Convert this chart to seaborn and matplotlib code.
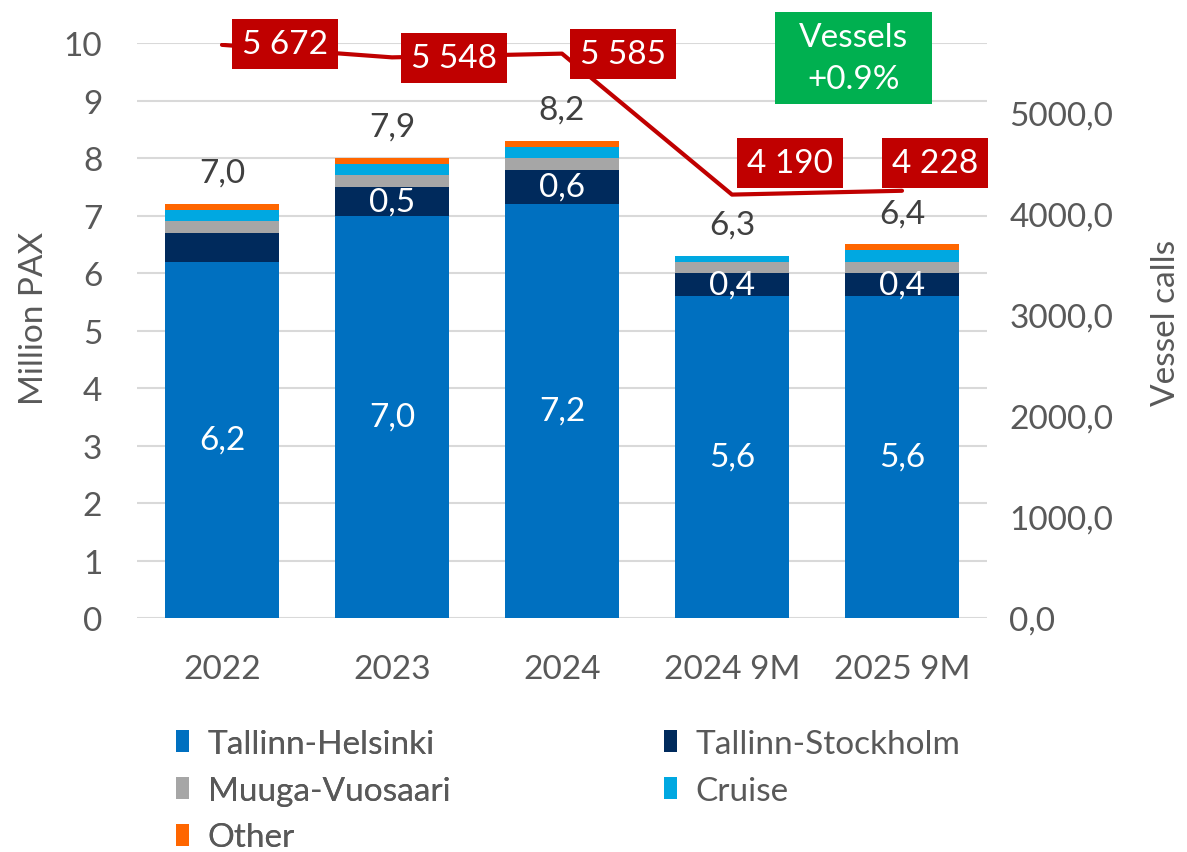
import numpy as np
import pandas as pd
import matplotlib
matplotlib.use("Agg")
import matplotlib.pyplot as plt
from matplotlib.patches import Patch, Rectangle
import seaborn as sns

# data
periods = ["2022", "2023", "2024", "2024 9M", "2025 9M"]
tallinn_helsinki = [6.2, 7.0, 7.2, 5.6, 5.6]
tallinn_stockholm = [0.5, 0.5, 0.6, 0.4, 0.4]
muuga_vuosaari = [0.2, 0.2, 0.2, 0.2, 0.2]
cruise = [0.2, 0.2, 0.2, 0.1, 0.2]
other = [0.1, 0.1, 0.1, 0.0, 0.1]
total_labels = [7.0, 7.9, 8.2, 6.3, 6.4]
stockholm_shown = [False, True, True, True, True]
vessel_calls = [5672, 5548, 5585, 4190, 4228]
vessels_change = "+0.9%"

series_names = ["Tallinn-Helsinki", "Tallinn-Stockholm", "Muuga-Vuosaari", "Cruise", "Other"]
series_colors = ["#0070C0", "#002A5C", "#A6A6A6", "#00A8E1", "#FF6600"]
red = "#C00000"
green = "#00B050"
grey_txt = "#595959"
dark_txt = "#404040"

sns.set_theme(style="white")
plt.rcParams["font.family"] = ["Lato", "DejaVu Sans"]
FS = 24

df = pd.DataFrame({"period": periods, "Tallinn-Helsinki": tallinn_helsinki,
                   "Tallinn-Stockholm": tallinn_stockholm, "Muuga-Vuosaari": muuga_vuosaari,
                   "Cruise": cruise, "Other": other})
cum = df[series_names].cumsum(axis=1)

fig = plt.figure(figsize=(11.87, 8.53), dpi=100)
ax = fig.add_axes([0.1154, 0.2743, 0.7161, 0.6741])

# stacked bars: draw cumulative heights from the top series down
for name, col in reversed(list(zip(series_names, series_colors))):
    sns.barplot(x=df["period"], y=cum[name], color=col, width=0.665,
                saturation=1, edgecolor="none", ax=ax, order=periods)

ax.set_ylim(0, 10)
ax.set_xlim(-0.5, 4.5)
ax.set_yticks(range(0, 11))
ax.set_axisbelow(True)
ax.yaxis.grid(True, color="#D9D9D9", linewidth=1.5)
ax.xaxis.grid(False)
for s in ax.spines.values():
    s.set_visible(False)
ax.tick_params(axis="y", length=0, pad=25, labelsize=FS, labelcolor=grey_txt)
ax.tick_params(axis="x", length=0, pad=26, labelsize=FS, labelcolor=grey_txt)
ax.set_xlabel("")
ax.set_ylabel("Million PAX", fontsize=FS, color=grey_txt)
ax.yaxis.set_label_coords(-0.103, 0.523)

# labels inside and on top of bars
for i in range(len(periods)):
    ax.text(i, tallinn_helsinki[i] / 2, f"{tallinn_helsinki[i]:.1f}".replace(".", ","),
            ha="center", va="center", color="white", fontsize=FS)
    if stockholm_shown[i]:
        ax.text(i, tallinn_helsinki[i] + tallinn_stockholm[i] / 2,
                f"{tallinn_stockholm[i]:.1f}".replace(".", ","),
                ha="center", va="center", color="white", fontsize=FS)
    ax.annotate(f"{total_labels[i]:.1f}".replace(".", ","), (i, cum["Other"][i]),
                xytext=(0, 22), textcoords="offset pixels",
                ha="center", va="baseline", color=dark_txt, fontsize=FS)

# vessel calls line on secondary axis
ax2 = ax.twinx()
sns.lineplot(x=np.arange(len(periods)), y=vessel_calls, color=red, linewidth=3, ax=ax2)
ax2.set_xlim(-0.5, 4.5)
ax2.set_ylim(0, 5690)
ax2.set_yticks(range(0, 6000, 1000))
ax2.set_yticklabels([f"{t:.1f}".replace(".", ",") for t in range(0, 6000, 1000)])
ax2.tick_params(axis="y", length=0, pad=16, labelsize=FS, labelcolor=grey_txt)
ax2.grid(False)
for s in ax2.spines.values():
    s.set_visible(False)
ax2.set_ylabel("Vessel calls", fontsize=FS, color=grey_txt)
ax2.yaxis.set_label_coords(1.193, 0.515)

offsets = [(63, 1), (62, -1), (61, 0), (58, 32), (33, 28)]
for i, v in enumerate(vessel_calls):
    txt = f"{v:,}".replace(",", " ")
    ax2.annotate(txt, (i, v), xytext=offsets[i], textcoords="offset pixels",
                 ha="center", va="center", color="white", fontsize=FS,
                 bbox=dict(boxstyle="square,pad=0.3", fc=red, ec="none"))

ax2.add_patch(Rectangle((0.7506, 0.8939), 0.1847, 0.16, transform=ax2.transAxes,
                        facecolor=green, edgecolor="none", clip_on=False, zorder=5))
ax2.text(0.8427, 0.974, "Vessels\n" + vessels_change, transform=ax2.transAxes,
         ha="center", va="center", color="white", fontsize=FS, linespacing=1.5, zorder=6)

# legend, two columns filled row by row
handles = [Patch(facecolor=c, edgecolor="none") for c in series_colors]
leg_kw = dict(frameon=False, fontsize=FS, handlelength=0.4, handleheight=0.65,
              handletextpad=0.55, labelspacing=0.5, labelcolor=grey_txt,
              loc="upper left", borderaxespad=0, borderpad=0)
leg1 = fig.legend([handles[0], handles[2], handles[4]],
                  [series_names[0], series_names[2], series_names[4]],
                  bbox_to_anchor=(176 / 1187, 1 - 730 / 853), **leg_kw)
fig.add_artist(leg1)
fig.legend([handles[1], handles[3]], [series_names[1], series_names[3]],
           bbox_to_anchor=(664 / 1187, 1 - 730 / 853), **leg_kw)

fig.savefig("out.png", dpi=100)
